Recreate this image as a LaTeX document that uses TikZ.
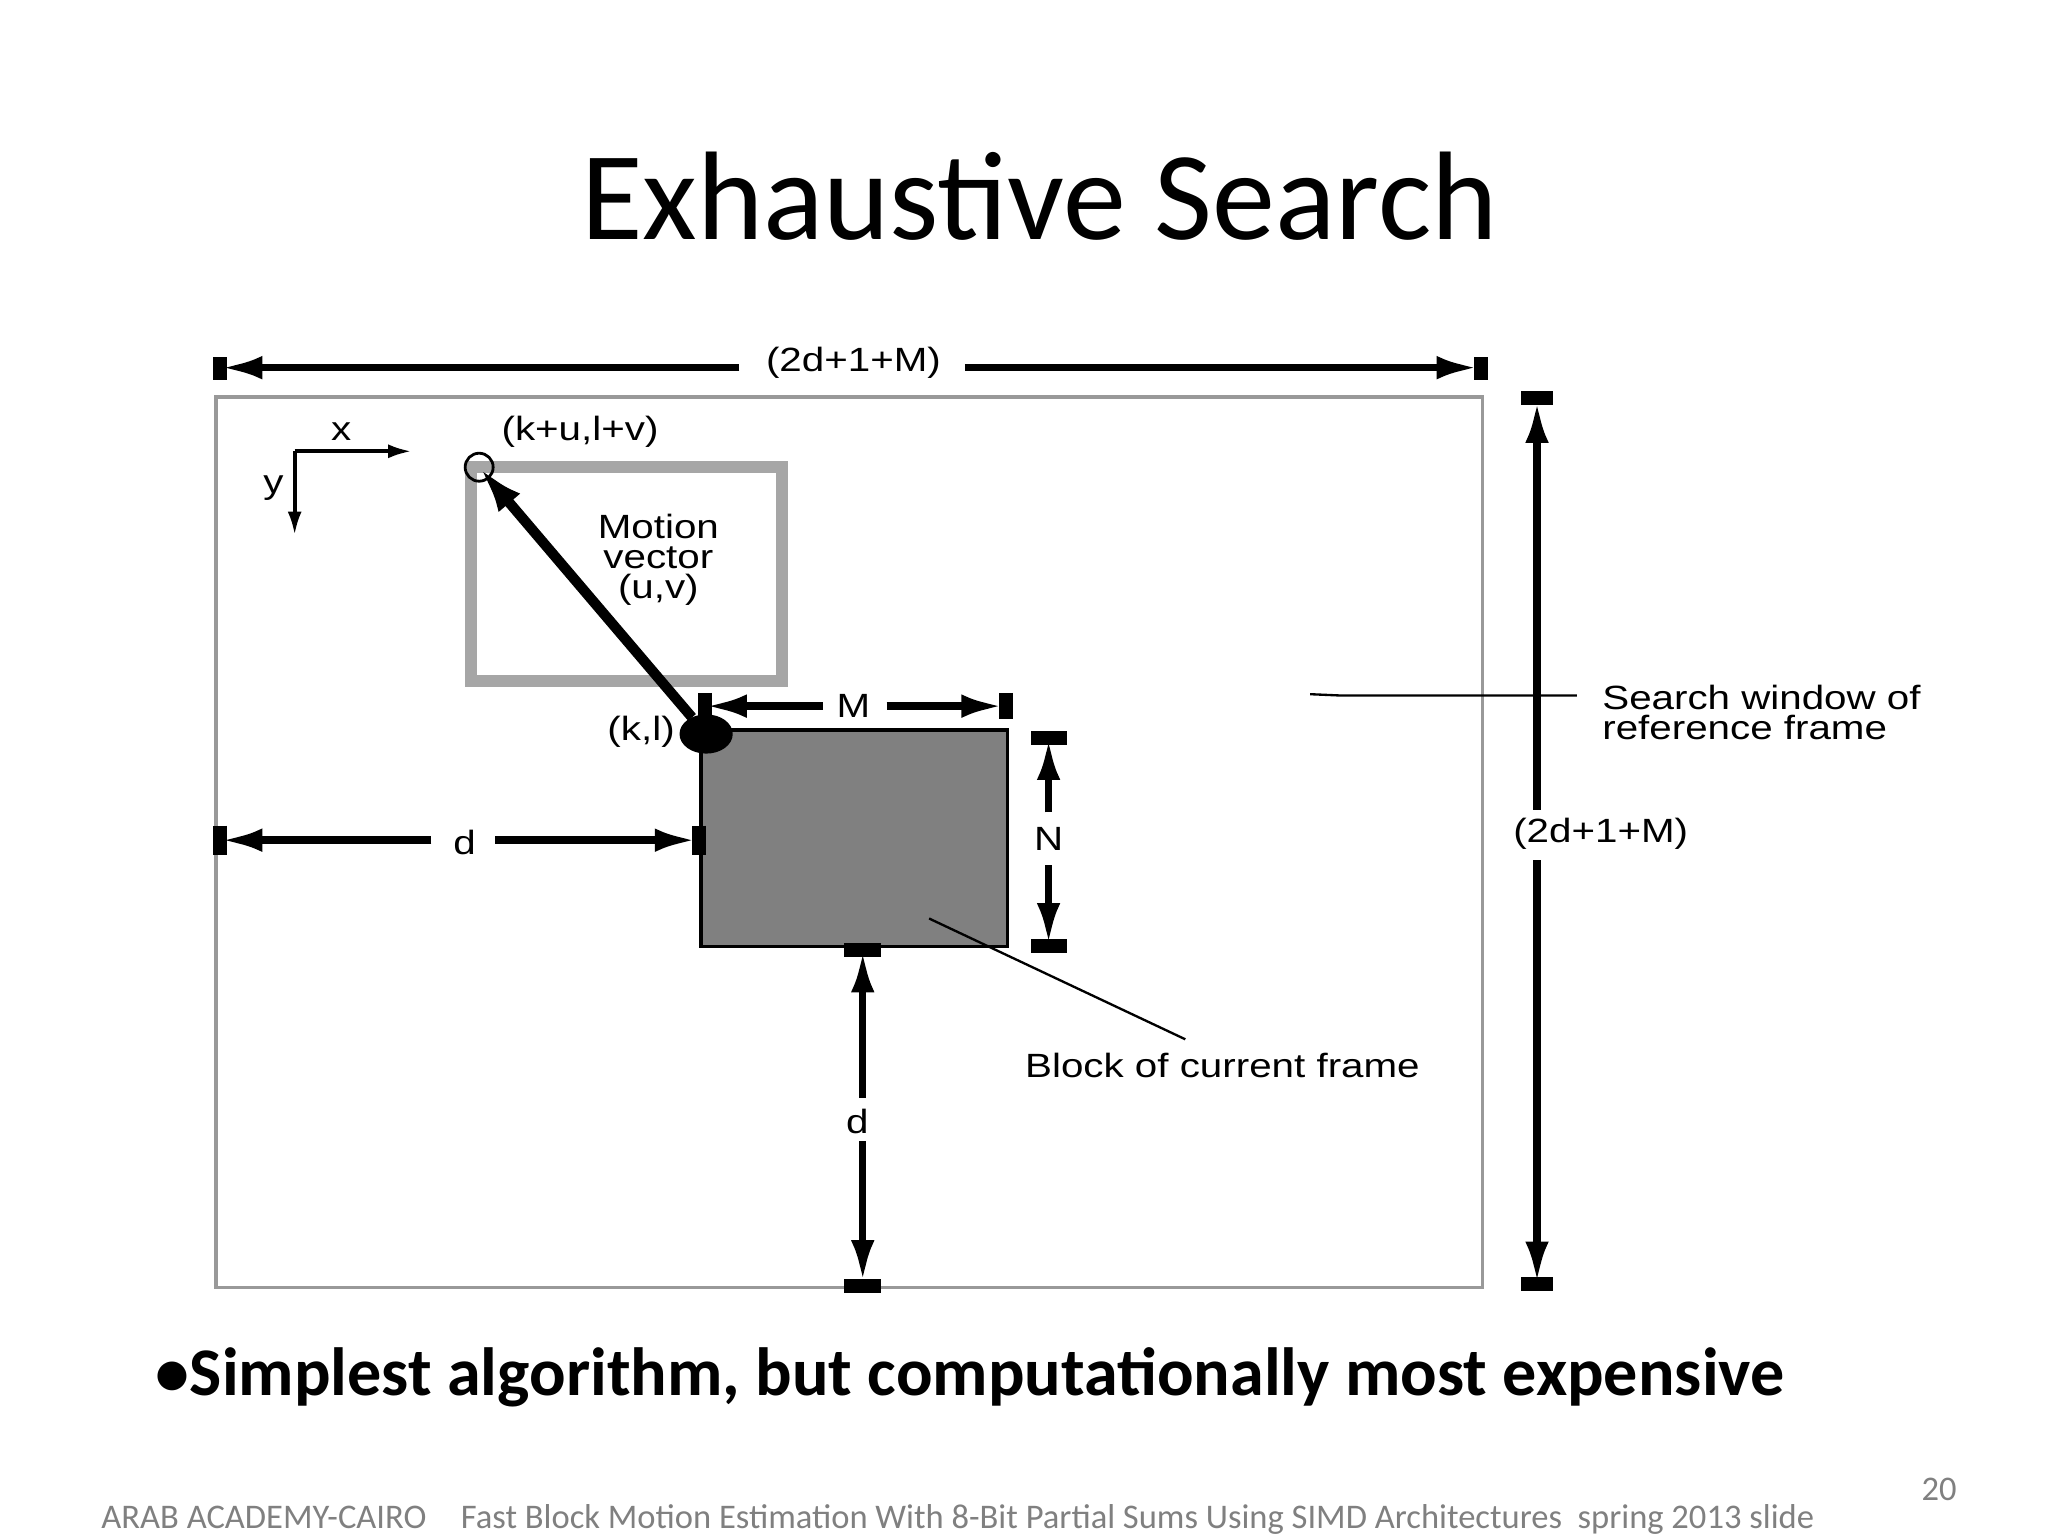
\documentclass[tikz,border=0pt]{standalone}
\usepackage{fontspec}
\setmainfont{Liberation Sans}
\newfontfamily\carlitofont{Carlito}
\newfontfamily\widefont[FakeStretch=1.2]{Liberation Sans}
\usetikzlibrary{arrows.meta,shapes.geometric}
\begin{document}
\begin{tikzpicture}[x=0.01cm,y=-0.01cm,
  lab/.style={font=\widefont\fontsize{7.2}{6.4}\selectfont,inner sep=1pt},
  dim/.style={line width=1.6pt,-{Latex[length=9pt,width=5pt]}},
  bar/.style={line width=3pt}]
\useasboundingbox (0,0) rectangle (1543,1157);
\node[font=\carlitofont\fontsize{27}{32}\selectfont] (title) at (783,148) {Exhaustive Search};
% outer window
\draw[gray!80,line width=0.8pt] (163,299) rectangle (1117,970);
% top dimension
\node[lab] (tl) at (643,273) {(2d+1+M)};
\coordinate (tA) at (166,277); \coordinate (tB) at (1114,277);
\draw[dim] (557,277) -- (tA);
\draw[dim] (727,277) -- (tB);
\draw[bar] (166,269) -- (166,286); \draw[bar] (1116,269) -- (1116,286);
% right dimension
\node[lab] (rl) at (1206,628) {(2d+1+M)};
\coordinate (rA) at (1158,302); \coordinate (rB) at (1158,967);
\draw[dim] (1158,610) -- (rA);
\draw[dim] (1158,648) -- (rB);
\draw[bar] (1146,300) -- (1170,300); \draw[bar] (1146,967) -- (1170,967);
% axes
\coordinate (o) at (222,340);
\coordinate (xe) at (310,340);
\coordinate (ye) at (222,403);
\draw[-{Latex[length=5pt,width=3pt]},line width=0.8pt] (o) -- (xe);
\draw[-{Latex[length=5pt,width=3pt]},line width=0.8pt] (o) -- (ye);
\node[lab] (xl) at (257,325) {x};
\node[lab] (yl) at (206,368) {y};
% previous block
\draw[gray!70,line width=2.5pt] (355,352) rectangle (589,513);
\node[lab,align=center] (mv) at (496,422) {Motion\\vector\\(u,v)};
\node[draw,circle,minimum size=6pt,inner sep=0pt,line width=0.6pt] (c) at (361,352) {};
\node[lab] (kuv) at (437,325) {(k+u,l+v)};
% current block
\draw[fill=black!50,line width=0.8pt] (528,550) rectangle (759,713);
\node[fill=black,ellipse,minimum width=11pt,minimum height=8pt,inner sep=0pt,draw] (kl) at (532,553) {};
\node[lab] (kll) at (483,551) {(k,l)};
\draw[line width=2.2pt,-{Latex[length=10pt,width=6pt]}] (kl) -- (c.center);
% M
\node[lab] (ml) at (643,532) {M};
\draw[dim] (620,532) -- (531,532);
\draw[dim] (668,532) -- (756,532);
\draw[bar] (531,522) -- (531,542); \draw[bar] (758,522) -- (758,542);
% N
\node[lab] (nl) at (790,632) {N};
\draw[dim] (790,612) -- (790,556);
\draw[dim] (790,652) -- (790,712);
\draw[bar] (777,556) -- (804,556); \draw[bar] (777,713) -- (804,713);
% d horizontal
\node[lab] (dl) at (350,635) {d};
\draw[dim] (325,633) -- (166,633);
\draw[dim] (373,633) -- (525,633);
\draw[bar] (166,622) -- (166,644); \draw[bar] (527,622) -- (527,644);
% d vertical
\node[lab] (dv) at (646,845) {d};
\draw[dim] (650,827) -- (650,716);
\draw[dim] (650,860) -- (650,966);
\draw[bar] (636,716) -- (664,716); \draw[bar] (636,969) -- (664,969);
% annotations
\node[lab,align=left,anchor=west] (sw) at (1203,537) {Search window of\\reference frame};
\draw[line width=0.5pt] (987,523) -- (1010,524) -- (1188,524);
\node[lab] (bc) at (921,803) {Block of current frame};
\draw[line width=0.5pt] (700,692) -- (893,783);
% bullet
\node[font=\carlitofont\bfseries\fontsize{14.6}{17}\selectfont,anchor=west] (bul) at (105,1038) {\textbullet Simplest algorithm, but computationally most expensive};
% footer
\node[font=\carlitofont\fontsize{7.4}{9}\selectfont,text=gray,anchor=west] (foot) at (64,1145) {ARAB ACADEMY-CAIRO\quad Fast Block Motion Estimation With 8-Bit Partial Sums Using SIMD Architectures\ \ spring 2013 slide};
\node[font=\carlitofont\fontsize{7.4}{9}\selectfont,text=gray] (pg) at (1461,1122) {20};
\end{tikzpicture}
\end{document}
